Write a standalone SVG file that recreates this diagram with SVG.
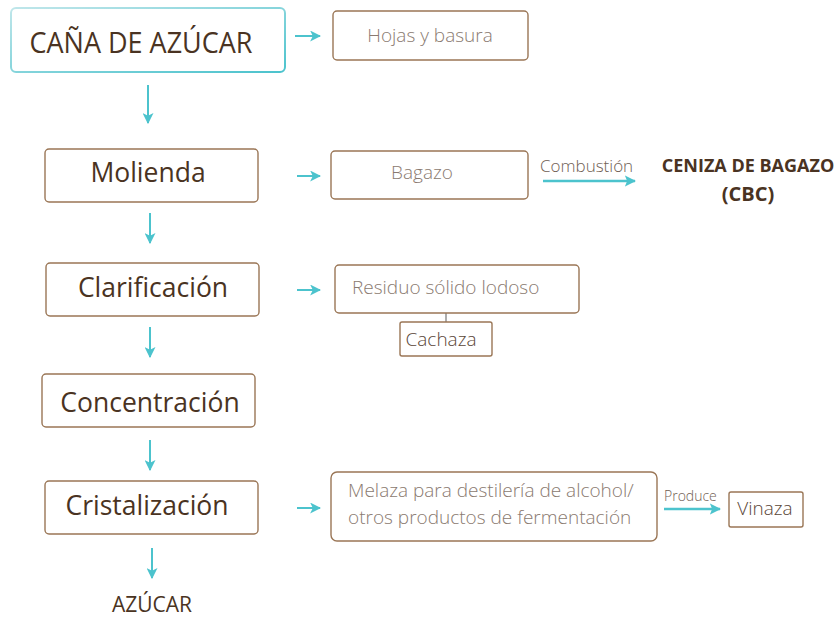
<svg xmlns="http://www.w3.org/2000/svg" width="838" height="617" viewBox="0 0 838 617">
<defs>
<linearGradient id="teal" x1="0" y1="0" x2="1" y2="1">
<stop offset="0" stop-color="#bfe6ea"/>
<stop offset="1" stop-color="#4cc3cd"/>
</linearGradient>
<marker id="ah" viewBox="0 0 10 10" refX="9" refY="5" markerWidth="5.5" markerHeight="5.5" orient="auto" markerUnits="strokeWidth">
<path d="M0,0 L10,5 L0,10 L2.5,5 z" fill="#4cc3cd"/>
</marker>
<marker id="ahs" viewBox="0 0 10 10" refX="9" refY="5" markerWidth="4.5" markerHeight="4.5" orient="auto" markerUnits="strokeWidth">
<path d="M0,0 L10,5 L0,10 L2,5 z" fill="#4cc3cd"/>
</marker>
</defs>
<style>
.box{fill:#fff;stroke:#9a7656;stroke-width:1.4}
.main{font-family:"Open Sans","Noto Sans",sans-serif;fill:#4a3322;font-size:26.5px;text-anchor:middle}
.sub{font-family:"Open Sans","Noto Sans",sans-serif;fill:#8a7a70;font-size:19px;font-weight:300}
.dark{font-family:"Open Sans","Noto Sans",sans-serif;fill:#5a4637;font-size:19px;font-weight:300;text-anchor:middle}
.lbl{font-family:"Open Sans","Noto Sans",sans-serif;fill:#6f5e53;font-size:17px;font-weight:300}
.bold{font-family:"Open Sans","Noto Sans",sans-serif;fill:#4a3322;font-size:18px;font-weight:700;text-anchor:middle}
.arr{stroke:#4cc3cd;stroke-width:2;fill:none;marker-end:url(#ah)}
.arrl{stroke:#4cc3cd;stroke-width:2.5;fill:none;marker-end:url(#ahs)}
</style>
<g id="connectors">
<line class="arr" x1="295" y1="36" x2="320" y2="36"/>
<line class="arr" x1="148" y1="85" x2="148" y2="123"/>
<line class="arr" x1="297" y1="176" x2="320" y2="176"/>
<line class="arrl" x1="543" y1="181" x2="635" y2="181"/>
<line class="arr" x1="150" y1="213" x2="150" y2="243"/>
<line class="arr" x1="297" y1="290" x2="320" y2="290"/>
<line x1="446" y1="313" x2="446" y2="322" stroke="#8a8a8a" stroke-width="1.4"/>
<line class="arr" x1="150" y1="327" x2="150" y2="357"/>
<line class="arr" x1="150" y1="440" x2="150" y2="470"/>
<line class="arr" x1="297" y1="508" x2="320" y2="508"/>
<line class="arrl" x1="664" y1="509" x2="720" y2="509"/>
<line class="arr" x1="152" y1="548" x2="152" y2="578"/>
<text class="lbl" x="540" y="172">Combustión</text>
<text class="lbl" x="664" y="501" style="font-size:14px">Produce</text>
</g>
<g id="cana">
<rect x="11" y="8" width="274" height="64" rx="5" fill="#fff" stroke="url(#teal)" stroke-width="2"/>
<text class="main" x="141" y="53" style="font-size:30px" textLength="223" lengthAdjust="spacingAndGlyphs">CAÑA DE AZÚCAR</text>
</g>
<g id="hojas">
<rect class="box" x="333" y="11" width="195" height="49" rx="4"/>
<text class="sub" x="430" y="42" text-anchor="middle">Hojas y basura</text>
</g>
<g id="molienda">
<rect class="box" x="45" y="149" width="213" height="53" rx="4"/>
<text class="main" x="148" y="182">Molienda</text>
</g>
<g id="bagazo">
<rect class="box" x="331" y="151" width="197" height="48" rx="4"/>
<text class="sub" x="422" y="179" text-anchor="middle">Bagazo</text>
</g>
<g id="ceniza">
<text class="bold" x="748" y="172">CENIZA DE BAGAZO</text>
<text class="bold" x="748" y="201" style="font-size:20px">(CBC)</text>
</g>
<g id="clarificacion">
<rect class="box" x="46" y="263" width="213" height="53" rx="4"/>
<text class="main" x="153" y="297">Clarificación</text>
</g>
<g id="residuo">
<rect class="box" x="335" y="265" width="244" height="48" rx="4"/>
<text class="sub" x="352" y="294">Residuo sólido lodoso</text>
</g>
<g id="cachaza">
<rect class="box" x="400" y="322" width="92" height="34" rx="2"/>
<text class="dark" x="441" y="346">Cachaza</text>
</g>
<g id="concentracion">
<rect class="box" x="42" y="374" width="213" height="53" rx="4"/>
<text class="main" x="150" y="412">Concentración</text>
</g>
<g id="cristalizacion">
<rect class="box" x="45" y="481" width="213" height="53" rx="4"/>
<text class="main" x="147" y="515">Cristalización</text>
</g>
<g id="melaza">
<rect class="box" x="331" y="472" width="326" height="69" rx="6"/>
<text class="sub" x="348" y="497">Melaza para destilería de alcohol/</text>
<text class="sub" x="348" y="524">otros productos de fermentación</text>
</g>
<g id="vinaza">
<rect class="box" x="729" y="492" width="74" height="35" rx="2"/>
<text class="dark" x="765" y="515">Vinaza</text>
</g>
<g id="azucar">
<text class="main" x="152" y="612" style="font-size:21px">AZÚCAR</text>
</g>
</svg>
